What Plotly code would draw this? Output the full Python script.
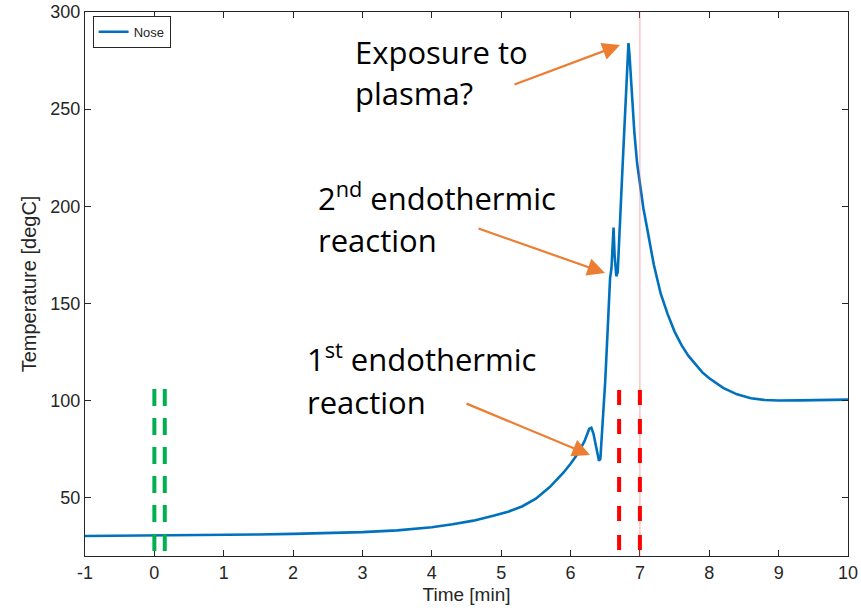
import plotly.graph_objects as go

# ---- data ----
time_min = [-1, -0.5, 0, 0.5, 1, 1.5, 2, 2.5, 3, 3.5, 4, 4.3, 4.6, 4.9, 5.1, 5.3, 5.5,
            5.7, 5.9, 6.0, 6.1, 6.2, 6.27, 6.3, 6.33, 6.37, 6.41, 6.43, 6.46, 6.5, 6.54,
            6.57, 6.59, 6.61, 6.62, 6.635, 6.66, 6.68, 6.70, 6.73, 6.76, 6.79, 6.82,
            6.835, 6.85, 6.88, 6.92, 6.96, 7.0, 7.05, 7.1, 7.2, 7.3, 7.4, 7.5, 7.6, 7.7,
            7.8, 7.9, 8.0, 8.2, 8.4, 8.6, 8.8, 9.0, 9.3, 9.6, 10.0]
nose_temp = [30.3, 30.4, 30.5, 30.7, 30.9, 31.1, 31.4, 31.8, 32.3, 33.2, 34.8, 36.3, 38.2,
             40.8, 42.8, 45.5, 49.5, 55.5, 63, 67.5, 72.5, 79, 85.5, 86, 83, 76, 69, 70,
             85, 110, 140, 163, 168, 182, 189, 175, 164, 166, 185, 205, 228, 252, 276,
             284, 278, 258, 238, 222, 211, 199, 189.5, 170, 155, 144.5, 135.5, 128.5,
             123, 118.5, 114.5, 111.5, 106.5, 103.2, 101.2, 100.3, 100.0, 100.1, 100.2,
             100.5]

x_ticks = [-1, 0, 1, 2, 3, 4, 5, 6, 7, 8, 9, 10]
y_ticks = [50, 100, 150, 200, 250, 300]
x_range = [-1, 10]
y_range = [20, 300]

green_lines_x = [0, 0.15]
green_lines_y = [106, 21]
red_lines_x = [6.7, 7.0]
red_lines_y = [105.5, 23]
marker_line_x = 7.0

# ---- layout geometry (pixels) ----
W, H = 861, 614
L, R, T, B = 85, 13, 12, 58
pw, ph = W - L - R, H - T - B


def px2x(px):
    return x_range[0] + (px - L) / pw * (x_range[1] - x_range[0])


def px2y(py):
    return y_range[1] - (py - T) / ph * (y_range[1] - y_range[0])


fig = go.Figure()
fig.add_trace(go.Scatter(x=time_min, y=nose_temp, mode="lines", name="Nose",
                         line=dict(color="#0072BD", width=2.6)))

# thin pink vertical marker
fig.add_shape(type="line", xref="x", yref="paper", x0=marker_line_x, x1=marker_line_x,
              y0=0, y1=1, line=dict(color="rgba(255,90,110,0.55)", width=1))
for gx in green_lines_x:
    fig.add_shape(type="line", xref="x", yref="y", x0=gx, x1=gx,
                  y0=green_lines_y[0], y1=green_lines_y[1],
                  line=dict(color="#00B050", width=4, dash="17px,12px"))
for rx in red_lines_x:
    fig.add_shape(type="line", xref="x", yref="y", x0=rx, x1=rx,
                  y0=red_lines_y[0], y1=red_lines_y[1],
                  line=dict(color="#FF0000", width=4, dash="15px,14px"))

orange = "#ED7D31"
arrows = [((513, 85), (620, 45)), ((477, 228), (605, 273)), ((465, 403), (590, 455))]
for (tx, ty), (hx, hy) in arrows:
    fig.add_annotation(x=px2x(hx), y=px2y(hy), ax=px2x(tx), ay=px2y(ty),
                       xref="x", yref="y", axref="x", ayref="y", text="",
                       showarrow=True, arrowhead=2, arrowsize=1.6, arrowwidth=2.2,
                       arrowcolor=orange, standoff=0)

labels = [("Exposure to", 353, 52), ("plasma?", 353, 93),
          ("2<sup>nd</sup> endothermic", 316, 196), ("reaction", 316, 240),
          ("1<sup>st</sup> endothermic", 305, 357), ("reaction", 305, 402)]
for txt, lx, ly in labels:
    fig.add_annotation(x=px2x(lx), y=px2y(ly), xref="x", yref="y", text=txt,
                       showarrow=False, xanchor="left", yanchor="middle",
                       font=dict(family="Open Sans", size=31, color="black"))

axis_common = dict(showgrid=False, zeroline=False, showline=True, linecolor="#262626",
                   linewidth=1, mirror="allticks", ticks="inside", ticklen=6,
                   tickcolor="#262626", automargin=False,
                   tickfont=dict(family="Liberation Sans", size=18, color="#262626"))
fig.update_xaxes(range=x_range, tickvals=x_ticks, ticktext=[str(v) for v in x_ticks],
                 title=dict(text="Time [min]", standoff=6,
                            font=dict(family="Liberation Sans", size=19, color="#262626")),
                 **axis_common)
fig.update_yaxes(range=y_range, tickvals=y_ticks,
                 title=dict(text="Temperature [degC]", standoff=8,
                            font=dict(family="Liberation Sans", size=20, color="#262626")),
                 **axis_common)

fig.update_layout(width=W, height=H, margin=dict(l=L, r=R, t=T, b=B, autoexpand=False),
                  paper_bgcolor="white", plot_bgcolor="white", showlegend=True,
                  legend=dict(x=0.01, y=0.993, xanchor="left", yanchor="top",
                              bgcolor="white", bordercolor="#262626", borderwidth=1,
                              font=dict(family="Liberation Sans", size=13, color="#262626"),
                              itemwidth=30, tracegroupgap=0))

fig.write_html("out.html")
